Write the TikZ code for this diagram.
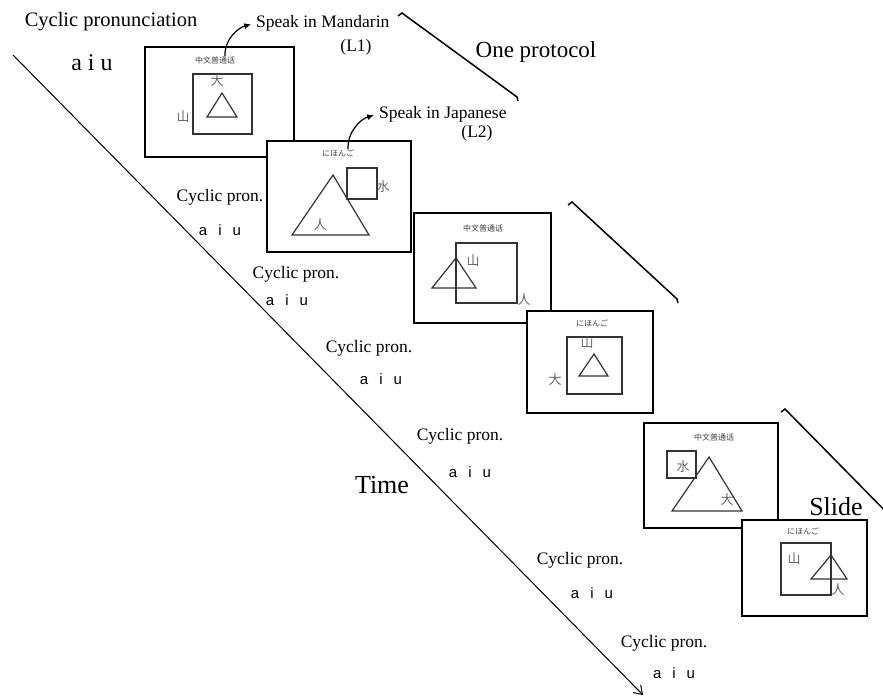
\documentclass[tikz,border=0pt]{standalone}
\usepackage{fontspec}
\setmainfont{Liberation Serif}
\newfontfamily\cjk{Noto Sans CJK SC}
\newfontfamily\jpf{Noto Sans CJK JP}
\newfontfamily\sansf{Liberation Sans}
\usetikzlibrary{arrows.meta,calc}
\tikzset{
  slidebox/.style={draw=black, line width=1.3pt, fill=white, anchor=north west, inner sep=0pt, outer sep=0pt},
  shp/.style={draw=black!80, line width=1.2pt},
  kan/.style={font=\cjk\fontsize{13}{13}\selectfont, text=black!60, inner sep=0pt},
  ttl/.style={font=\cjk\fontsize{8}{8}\selectfont, text=black!75, inner sep=0pt},
  jttl/.style={font=\jpf\fontsize{8}{8}\selectfont, text=black!75, inner sep=0pt},
  cp/.style={font=\fontsize{17.5}{18}\selectfont, inner sep=0pt},
  aiu/.style={font=\sansf\fontsize{15}{15}\selectfont, inner sep=0pt},
  speak/.style={font=\fontsize{17.5}{18}\selectfont, inner sep=0pt},
  bigtxt/.style={font=\fontsize{26}{26}\selectfont, inner sep=0pt},
  bracketline/.style={draw=black, line width=1.5pt},
  speakarrow/.style={-{Latex[length=7pt,width=6pt]}, line width=1.2pt, shorten >=5pt}
}
\newcommand{\aiutext}{a\hspace{11pt}i\hspace{11pt}u}
\begin{document}
\begin{tikzpicture}[x=1pt,y=-1pt]
\useasboundingbox (0,0) rectangle (883,698);

% time arrow
\coordinate (tstart) at (13,55);
\coordinate (tend) at (643,695);
\draw[line width=1pt, -{Straight Barb[length=8pt,width=11pt]}] (tstart) -- (tend);
\node[bigtxt] (time) at (382,485) {Time};

% top labels
\node[font=\fontsize{20.5}{21}\selectfont, inner sep=0pt] (cpfull) at (111,22) {Cyclic pronunciation};
\node[font=\fontsize{24}{24}\selectfont, inner sep=0pt] (aiutop) at (92,63) {a\hspace{6pt}i\hspace{6pt}u};

% cyclic pron labels
\node[cp] (cp1) at (220,197) {Cyclic pron.};
\node[aiu] (a1) at (220,230) {\aiutext};
\node[cp] (cp2) at (296,274) {Cyclic pron.};
\node[aiu] (a2) at (287,300) {\aiutext};
\node[cp] (cp3) at (369,348) {Cyclic pron.};
\node[aiu] (a3) at (381,379) {\aiutext};
\node[cp] (cp4) at (460,436) {Cyclic pron.};
\node[aiu] (a4) at (470,472) {\aiutext};
\node[cp] (cp5) at (580,560) {Cyclic pron.};
\node[aiu] (a5) at (592,593) {\aiutext};
\node[cp] (cp6) at (664,643) {Cyclic pron.};
\node[aiu] (a6) at (674,673) {\aiutext};

% brackets
\draw[bracketline] (398,16) -- (402,13) -- (517,97) -- (518,101);
\node[font=\fontsize{23}{23}\selectfont, inner sep=0pt] (proto) at (536,52) {One protocol};
\draw[bracketline] (568,205) -- (572,202) -- (677,299) -- (678,303);
\draw[bracketline] (781,412) -- (785,409) -- (900,526);
\node[bigtxt] (slidelbl) at (836,507) {Slide};

% speak labels
\node[speak, anchor=west] (sm) at (256,23) {Speak in Mandarin};
\node[speak] (l1) at (356,47) {(L1)};
\node[speak, anchor=west] (sj) at (379,114) {Speak in Japanese};
\node[speak] (l2) at (477,133) {(L2)};

% slide 1
\node[slidebox, minimum width=149pt, minimum height=110pt] (s1) at (145,47) {};
\draw[shp] (193,74) rectangle (252,134);
\draw[shp] (222,93) -- (237,117) -- (207,117) -- cycle;
\node[kan] (k1a) at (217,81) {大};
\node[kan] (k1b) at (183,117) {山};
\node[ttl] (t1) at (215,60) {中文普通话};
\draw[speakarrow] ($(t1.north)+(10,0)$) to[out=92,in=195] (sm.west);

% slide 2
\node[slidebox, minimum width=144pt, minimum height=111pt] (s2) at (267,141) {};
\draw[shp] (333,175) -- (369,235) -- (292,235) -- cycle;
\draw[shp] (347,168) rectangle (377,199);
\node[kan] (k2a) at (383,187) {水};
\node[kan] (k2b) at (320,225) {人};
\node[jttl] (t2) at (338,153) {にほんご};
\draw[speakarrow] ($(t2.north)+(10,0)$) to[out=92,in=195] (sj.west);

% slide 3
\node[slidebox, minimum width=137pt, minimum height=110pt] (s3) at (414,213) {};
\draw[shp] (456,243) rectangle (517,303);
\draw[shp] (456,258) -- (476,288) -- (432,288) -- cycle;
\node[kan] (k3a) at (473,261) {山};
\node[kan] (k3b) at (524,300) {人};
\node[ttl] (t3) at (483,228) {中文普通话};

% slide 4
\node[slidebox, minimum width=126pt, minimum height=102pt] (s4) at (527,311) {};
\draw[shp] (567,337) rectangle (622,394);
\draw[shp] (594,354) -- (608,376) -- (579,376) -- cycle;
\node[kan] (k4a) at (587,343) {山};
\node[kan] (k4b) at (555,380) {大};
\node[jttl] (t4) at (592,323) {にほんご};

% slide 5
\node[slidebox, minimum width=134pt, minimum height=105pt] (s5) at (644,423) {};
\draw[shp] (667,451) rectangle (696,478);
\draw[shp] (709,457) -- (742,511) -- (672,511) -- cycle;
\node[kan] (k5a) at (683,467) {水};
\node[kan] (k5b) at (727,500) {大};
\node[ttl] (t5) at (714,437) {中文普通话};

% slide 6
\node[slidebox, minimum width=125pt, minimum height=96pt] (s6) at (742,520) {};
\draw[shp] (781,543) rectangle (831,595);
\draw[shp] (831,555) -- (847,579) -- (811,579) -- cycle;
\node[kan] (k6a) at (794,559) {山};
\node[kan] (k6b) at (838,590) {人};
\node[jttl] (t6) at (803,531) {にほんご};

\end{tikzpicture}
\end{document}
